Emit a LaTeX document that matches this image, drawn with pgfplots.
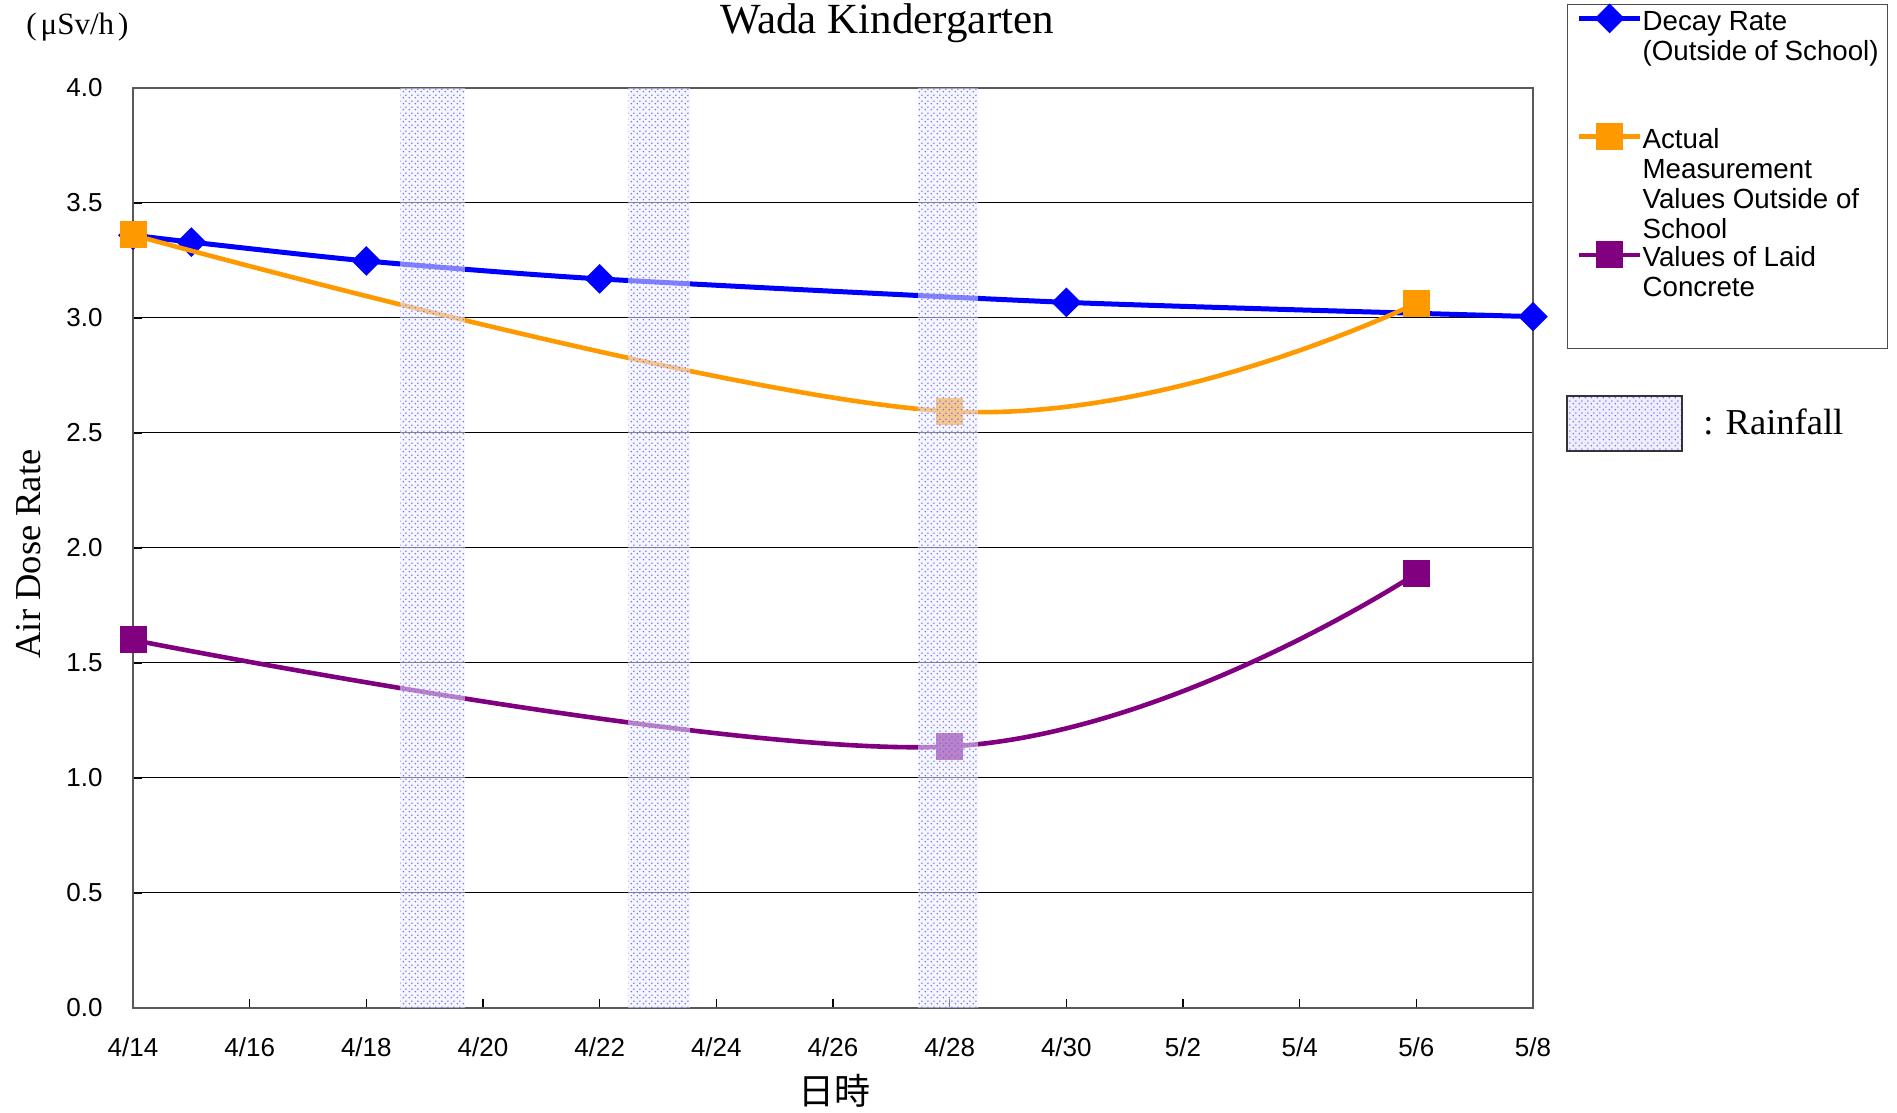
\documentclass[border=0pt]{standalone}
\usepackage{fontspec}
\setmainfont{Liberation Serif}
\setsansfont{Liberation Sans}
\newfontfamily\cjk{Noto Sans CJK JP}
\usepackage{pgfplots}
\usepackage{pgfplotstable}
\pgfplotsset{compat=1.18}
\usetikzlibrary{patterns}
\pgfdeclarepatternformonly{raindots}{\pgfqpoint{0pt}{0pt}}{\pgfqpoint{3pt}{3pt}}{\pgfqpoint{3pt}{3pt}}{%
  \pgfpathcircle{\pgfqpoint{0.75pt}{0.75pt}}{0.45pt}%
  \pgfpathcircle{\pgfqpoint{2.25pt}{2.25pt}}{0.45pt}%
  \pgfusepath{fill}}
\definecolor{decay}{RGB}{0,0,255}
\definecolor{actual}{RGB}{255,153,0}
\definecolor{concrete}{RGB}{128,0,128}
\definecolor{rainbg}{RGB}{238,238,255}
\definecolor{raindot}{RGB}{100,100,255}

% day 0 = 4/14
\pgfplotstableread{
day val
0 3.360
1 3.330
4 3.248
8 3.170
16 3.068
24 3.006
}\decaytable
\pgfplotstableread{
day val
0 3.361
14 2.594
22 3.064
}\actualtable
\pgfplotstableread{
day val
0 1.600
14 1.137
22 1.889
}\concretetable
% rainfall bands (day from, day to), drawn from 0 to 4.0
\pgfplotstableread{
day top
4.58 4
5.69 4
}\rainA
\pgfplotstableread{
day top
8.49 4
9.55 4
}\rainB
\pgfplotstableread{
day top
13.46 4
14.49 4
}\rainC

\begin{document}
\begin{tikzpicture}
\useasboundingbox (0,0) rectangle (948.5pt,556.5pt);
\begin{axis}[
  at={(66.5pt,52.5pt)}, anchor=south west,
  scale only axis, width=700pt, height=460pt,
  clip=false, clip marker paths=true,
  xmin=0, xmax=24, ymin=0, ymax=4,
  xtick={0,2,4,6,8,10,12,14,16,18,20,22,24},
  xticklabels={4/14,4/16,4/18,4/20,4/22,4/24,4/26,4/28,4/30,5/2,5/4,5/6,5/8},
  ytick={0,0.5,1,1.5,2,2.5,3,3.5,4},
  yticklabels={0.0,0.5,1.0,1.5,2.0,2.5,3.0,3.5,4.0},
  ticklabel style={font=\fontsize{13}{15}\selectfont\sffamily, inner sep=0pt},
  xticklabel style={anchor=north, yshift=-14.5pt},
  yticklabel style={anchor=east, xshift=-15pt},
  tick pos=left, tick align=inside, major tick length=4.5pt,
  tick style={black, line width=0.6pt},
  ymajorgrids, major grid style={black, line width=0.5pt},
  axis line style={black!65, line width=1.3pt},
  title={Wada Kindergarten},
  title style={font=\fontsize{21.5}{24}\selectfont, at={(axis description cs:0.5386,1)}, anchor=base, yshift=21pt},
  xlabel={\cjk 日時},
  xlabel style={font=\fontsize{18}{20}\selectfont, at={(axis description cs:0.5014,0)}, anchor=base, yshift=-48.25pt},
  ylabel={Air Dose Rate},
  ylabel style={font=\fontsize{18.25}{20}\selectfont, at={(axis description cs:-0.066,0.4935)}, anchor=base, rotate=0},
  legend cell align=left,
  legend style={at={(axis description cs:1.0243,1.0913)}, anchor=north west,
    draw=black!70, line width=0.6pt, inner xsep=4.5pt, inner ysep=1.25pt,
    font=\fontsize{13.85}{15}\selectfont\sffamily,
    column sep=0pt, row sep=7.75pt,
    nodes={inner sep=0pt, text depth=39.75pt, text height=10pt},
    cells={anchor=base west}},
  legend image code/.code={\draw[mark repeat=2,mark phase=2,#1] plot coordinates {(0pt,0pt) (15.25pt,0pt) (30.5pt,0pt)};},
  legend image post style={yshift=6pt},
]
\addplot[decay, line width=2.5pt, smooth, tension=0.4, mark=square*, mark size=4pt,
  mark options={solid, fill=decay, draw=none, rotate=45}] table[x=day,y=val]{\decaytable};
\addlegendentry{\parbox[t]{118pt}{Decay Rate\\(Outside of School)}}
\addplot[actual, line width=2.3pt, smooth, tension=0.62, mark=square*, mark size=5.6pt,
  mark options={solid, fill=actual, draw=none}] table[x=day,y=val]{\actualtable};
\addlegendentry{\parbox[t]{118pt}{Actual\\Measurement\\Values Outside of\\School}}
\addplot[concrete, line width=2.3pt, smooth, tension=0.62, mark=square*, mark size=5.6pt,
  mark options={solid, fill=concrete, draw=none}] table[x=day,y=val]{\concretetable};
\addlegendentry{\parbox[t]{118pt}{Values of Laid\\Concrete}}
% rainfall bands, drawn over the lines and marks
\addplot[forget plot, draw=none, fill=rainbg, fill opacity=0.55] table[x=day,y=top]{\rainA} \closedcycle;
\addplot[forget plot, draw=none, pattern=raindots, pattern color=raindot] table[x=day,y=top]{\rainA} \closedcycle;
\addplot[forget plot, draw=none, fill=rainbg, fill opacity=0.55] table[x=day,y=top]{\rainB} \closedcycle;
\addplot[forget plot, draw=none, pattern=raindots, pattern color=raindot] table[x=day,y=top]{\rainB} \closedcycle;
\addplot[forget plot, draw=none, fill=rainbg, fill opacity=0.55] table[x=day,y=top]{\rainC} \closedcycle;
\addplot[forget plot, draw=none, pattern=raindots, pattern color=raindot] table[x=day,y=top]{\rainC} \closedcycle;
\end{axis}
\node[anchor=base west, inner sep=0pt, font=\fontsize{15.5}{17}\selectfont] at (13pt,539pt) {(\kern2pt μSv/h\kern2pt)};
\fill[rainbg] (783.5pt,331pt) rectangle (841pt,358.5pt);
\fill[pattern=raindots, pattern color=raindot] (783.5pt,331pt) rectangle (841pt,358.5pt);
\draw[black!80, line width=1.2pt] (783.5pt,331pt) rectangle (841pt,358.5pt);
\node[anchor=base west, inner sep=0pt, font=\fontsize{18.25}{20}\selectfont] at (851.5pt,339pt) {: Rainfall};
\end{tikzpicture}
\end{document}
